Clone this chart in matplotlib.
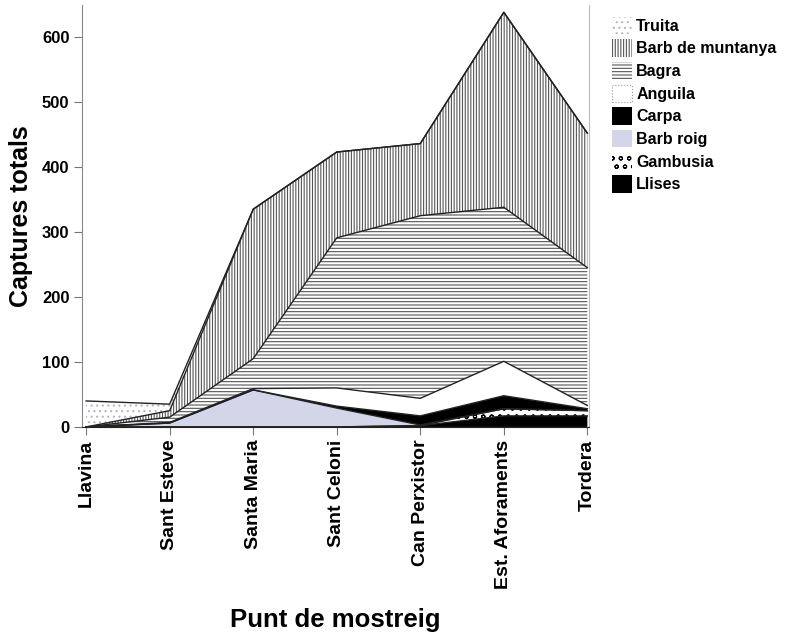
import numpy as np
import matplotlib
matplotlib.use('Agg')
import matplotlib.pyplot as plt
from matplotlib.patches import Patch

plt.rcParams['font.family'] = ['Liberation Sans', 'DejaVu Sans']
plt.rcParams['hatch.linewidth'] = 0.8

# punts de mostreig
llocs = ['Llavina', 'Sant Esteve', 'Santa Maria', 'Sant Celoni',
         'Can Perxistor', 'Est. Aforaments', 'Tordera']

# captures per espècie (de baix a dalt de la pila)
llises = [0, 0, 0, 0, 2, 17, 17]
gambusia = [0, 0, 0, 0, 0, 11, 8]
barb_roig = [0, 6, 57, 29, 1, 0, 0]
carpa = [0, 0, 0, 3, 14, 20, 3]
anguila = [0, 1, 2, 28, 27, 53, 5]
bagra = [0, 8, 46, 231, 281, 237, 212]
barb_muntanya = [0, 10, 230, 132, 111, 300, 207]
truita = [40, 10, 0, 0, 0, 0, 0]

series = [llises, gambusia, barb_roig, carpa, anguila, bagra, barb_muntanya, truita]
noms = ['Llises', 'Gambusia', 'Barb roig', 'Carpa', 'Anguila', 'Bagra',
        'Barb de muntanya', 'Truita']

# estil de cada capa: color de fons, trama, color de la trama
estils = [
    ('black', '', 'black'),
    ('white', 'oo', 'black'),
    ('#d3d5e9', '', '#d3d5e9'),
    ('black', '', 'black'),
    ('white', '', 'white'),
    ('white', '-----', '#555555'),
    ('white', '||||||', '#555555'),
    ('white', '...', '#b5b5c8'),
]

fig = plt.figure(figsize=(7.88, 6.42), dpi=100)
ax = fig.add_axes([0.104, 0.335, 0.6435, 0.657])

x = np.arange(len(llocs))
polys = ax.stackplot(x, *series)
for p, (fc, h, hc) in zip(polys, estils):
    p.set_facecolor(fc)
    p.set_hatch(h)
    p.set_edgecolor(hc)
    p.set_linewidth(0)

# línies de separació entre capes
acum = np.cumsum(np.array(series), axis=0)
for fila in acum:
    ax.plot(x, fila, color='#222222', lw=1.0)

ax.set_xlim(-0.05, 6.02)
ax.set_ylim(0, 649)
ax.set_yticks([0, 100, 200, 300, 400, 500, 600])
ax.set_xticks(x)
ax.set_xticklabels(llocs, rotation=90, fontsize=14, fontweight='bold')
for t in ax.get_yticklabels():
    t.set_fontsize(12)
    t.set_fontweight('bold')
ax.tick_params(axis='both', length=6, color='#777777', pad=3)

ax.spines['top'].set_visible(False)
ax.spines['left'].set_color('#888888')
ax.spines['right'].set_color('#bbbbbb')
ax.spines['bottom'].set_color('#222222')

ax.set_ylabel('Captures totals', fontsize=18, fontweight='bold', va='center')
ax.yaxis.set_label_coords(-0.12, 0.5)
ax.set_xlabel('Punt de mostreig', fontsize=18.5, fontweight='bold')
ax.xaxis.set_label_coords(0.5, -0.457)
ax.xaxis.label.set_va('center')

# llegenda, Truita a dalt
handles = []
for fc, h, hc in estils:
    if fc == 'white' and h == '':
        handles.append(Patch(facecolor='white', edgecolor='#999999', lw=0.8, ls=':'))
    else:
        handles.append(Patch(facecolor=fc, hatch=h, edgecolor=hc, lw=0))
fig.legend(handles[::-1], noms[::-1], loc='upper left',
           bbox_to_anchor=(0.768, 0.984), frameon=False,
           prop={'weight': 'bold', 'size': 11.5},
           handlelength=1.3, handleheight=1.3, labelspacing=0.33,
           handletextpad=0.25, borderaxespad=0)

fig.savefig('out.png', dpi=100)
